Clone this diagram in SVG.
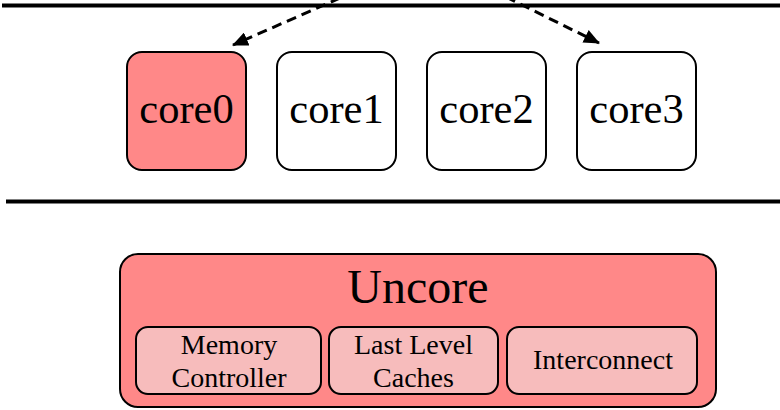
<svg xmlns="http://www.w3.org/2000/svg" width="780" height="410" viewBox="0 0 780 410">
  <style>
    text { font-family: "Liberation Serif", "Times New Roman", serif; fill: #000; text-anchor: middle; }
    .core { stroke: #000; stroke-width: 2; fill: #fff; }
    .core.active { fill: #ff8888; }
    .core-label { font-size: 42.5px; }
    .uncore { fill: #ff8888; stroke: #000; stroke-width: 2; }
    .unit { fill: #f7bcbc; stroke: #000; stroke-width: 2; }
    .unit-label { font-size: 28px; }
    .rule { stroke: #000; stroke-width: 4; }
    .link { stroke: #000; stroke-width: 3; stroke-dasharray: 10 6; fill: none; }
  </style>
  <defs>
    <marker id="arrow" viewBox="0 0 16 14" refX="15" refY="7" markerWidth="16" markerHeight="14" markerUnits="userSpaceOnUse" orient="auto">
      <path d="M0,0 L16,7 L0,14 z" fill="#000"/>
    </marker>
  </defs>
  <rect width="780" height="410" fill="#fff"/>

  <!-- horizontal rules -->
  <line class="rule" x1="2" y1="5.5" x2="780" y2="5.5"/>
  <line class="rule" x1="6" y1="201.5" x2="780" y2="201.5"/>

  <!-- connectors -->
  <g id="connectors">
    <line class="link" x1="340" y1="-2" x2="233" y2="45" marker-end="url(#arrow)"/>
    <line class="link" x1="506" y1="-3" x2="599" y2="43" marker-end="url(#arrow)"/>
  </g>

  <!-- cores -->
  <g id="core0">
    <rect class="core active" x="127" y="52" width="119" height="118" rx="15"/>
    <text class="core-label" x="186.5" y="123">core0</text>
  </g>
  <g id="core1">
    <rect class="core" x="277" y="52" width="119" height="118" rx="15"/>
    <text class="core-label" x="336.5" y="123">core1</text>
  </g>
  <g id="core2">
    <rect class="core" x="427" y="52" width="119" height="118" rx="15"/>
    <text class="core-label" x="486.5" y="123">core2</text>
  </g>
  <g id="core3">
    <rect class="core" x="577" y="52" width="119" height="118" rx="15"/>
    <text class="core-label" x="636.5" y="123">core3</text>
  </g>

  <!-- uncore -->
  <g id="uncore">
    <rect class="uncore" x="120" y="254" width="596" height="153" rx="18"/>
    <text x="418" y="303" font-size="48">Uncore</text>
  </g>
  <g id="memory-controller">
    <rect class="unit" x="136" y="327" width="185" height="67" rx="12"/>
    <text class="unit-label" x="229" y="354">Memory</text>
    <text class="unit-label" x="229" y="387">Controller</text>
  </g>
  <g id="last-level-caches">
    <rect class="unit" x="329" y="327" width="169" height="67" rx="12"/>
    <text class="unit-label" x="413.5" y="354">Last Level</text>
    <text class="unit-label" x="413.5" y="387">Caches</text>
  </g>
  <g id="interconnect">
    <rect class="unit" x="507" y="327" width="190" height="67" rx="12"/>
    <text class="unit-label" x="603" y="369">Interconnect</text>
  </g>
</svg>
